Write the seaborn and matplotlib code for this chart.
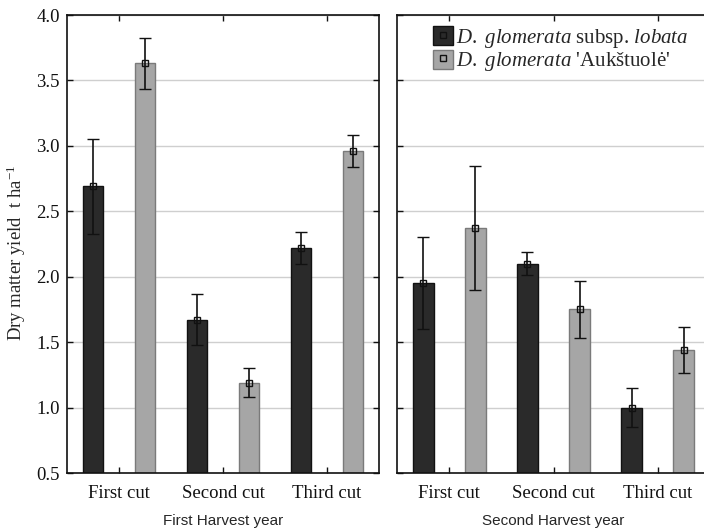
import matplotlib
matplotlib.use("Agg")
import matplotlib.pyplot as plt
from matplotlib.patches import Patch
from matplotlib.lines import Line2D
import seaborn as sns
import pandas as pd

cuts = ["First cut", "Second cut", "Third cut"]
varieties = ["lobata", "Aukstuole"]

# first harvest year
lobata_y1 = [2.69, 1.67, 2.22]
lobata_y1_err = [0.36, 0.195, 0.12]
auk_y1 = [3.63, 1.19, 2.96]
auk_y1_err = [0.195, 0.11, 0.125]

# second harvest year
lobata_y2 = [1.95, 2.10, 1.00]
lobata_y2_err = [0.35, 0.09, 0.15]
auk_y2 = [2.37, 1.75, 1.44]
auk_y2_err = [0.475, 0.22, 0.175]

yticks = [0.5, 1.0, 1.5, 2.0, 2.5, 3.0, 3.5, 4.0]

sns.set_style("ticks")
plt.rcParams['font.family'] = ['Liberation Serif', 'DejaVu Serif']
plt.rcParams['mathtext.fontset'] = 'custom'
plt.rcParams['mathtext.rm'] = 'Liberation Serif'
plt.rcParams['mathtext.it'] = 'Liberation Serif:italic'

colors = {"lobata": "#2a2a2a", "Aukstuole": "#a6a6a6"}
edges = {"lobata": "#111111", "Aukstuole": "#7a7a7a"}

fig = plt.figure(figsize=(7.04, 5.32), dpi=100)
ax1 = fig.add_axes([67 / 704, 59 / 532, 312 / 704, 458 / 532])
ax2 = fig.add_axes([397 / 704, 59 / 532, 313 / 704, 458 / 532])

panels = [
    (ax1, lobata_y1, lobata_y1_err, auk_y1, auk_y1_err, "First Harvest year"),
    (ax2, lobata_y2, lobata_y2_err, auk_y2, auk_y2_err, "Second Harvest year"),
]

for ax, lob, lob_err, auk, auk_err, title in panels:
    df = pd.DataFrame({
        "cut": cuts * 2,
        "variety": ["lobata"] * 3 + ["Aukstuole"] * 3,
        "yield": lob + auk,
    })
    sns.barplot(data=df, x="cut", y="yield", hue="variety", hue_order=varieties,
                palette=colors, errorbar=None, width=1.0, gap=0.6,
                linewidth=1.0, legend=False, ax=ax, zorder=2)
    for cont, var, err in zip(ax.containers, varieties, [lob_err, auk_err]):
        xs = [p.get_x() + p.get_width() / 2 for p in cont.patches]
        hs = [p.get_height() for p in cont.patches]
        for p in cont.patches:
            p.set_edgecolor(edges[var])
            p.set_alpha(1)
        ax.errorbar(xs, hs, yerr=err, fmt='s', ms=5, mfc='none', mec='#111111',
                    mew=1.0, ecolor='#111111', elinewidth=1.2, capsize=4,
                    capthick=1.2, zorder=3)
    ax.set_ylim(0.5, 4.0)
    ax.set_xlim(-0.5, 2.5)
    ax.set_yticks(yticks)
    ax.yaxis.grid(True, color='#cfcfcf', linewidth=1.0, zorder=0)
    ax.set_axisbelow(True)
    ax.tick_params(direction='in', length=4, width=1, top=True, right=True,
                   labelsize=13.5, pad=9, colors='#111111')
    ax.set_xlabel(title, family=['Liberation Sans'], fontsize=11, labelpad=8)
    ax.set_ylabel("")
    for s in ax.spines.values():
        s.set_linewidth(1.2)
        s.set_color('#111111')

ax1.set_ylabel("Dry matter yield  t ha$^{-1}$", fontsize=13.5, labelpad=6)
ax1.yaxis.label.set_y(0.48)
ax1.tick_params(axis='y', pad=5)
ax2.tick_params(axis='y', labelleft=False)

handles = [
    (Patch(facecolor=colors[v], edgecolor=edges[v]),
     Line2D([], [], marker='s', ms=4, mfc='none', mec='#111111', ls='none'))
    for v in varieties
]
labels = [r"$\it{D.}$ $\it{glomerata}$ subsp. $\it{lobata}$",
          r"$\it{D.}$ $\it{glomerata}$ 'Aukštuolė'"]
ax2.legend(handles, labels, loc='upper left', bbox_to_anchor=(0.115, 0.975),
           frameon=False, fontsize=15, handlelength=0.95, handleheight=1.0,
           handletextpad=0.15, labelspacing=0.0, borderpad=0, borderaxespad=0)

fig.savefig("out.png", dpi=100)
